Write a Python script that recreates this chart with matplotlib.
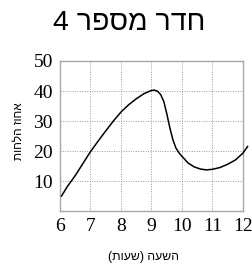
import matplotlib
matplotlib.use("Agg")
import matplotlib.pyplot as plt

# data
hours = [6.05, 6.25, 6.5, 6.75, 7.0, 7.25, 7.5, 7.75, 8.0, 8.25, 8.5, 8.75,
         9.0, 9.1, 9.2, 9.3, 9.4, 9.5, 9.6, 9.7, 9.8, 9.9, 10.0, 10.2, 10.4,
         10.6, 10.8, 11.0, 11.25, 11.5, 11.75, 12.0, 12.15]
humidity = [5.0, 8.3, 11.8, 15.8, 19.8, 23.3, 26.7, 30.0, 33.0, 35.4, 37.4, 39.1,
            40.2, 40.3, 39.9, 38.8, 36.6, 32.5, 27.8, 23.8, 21.0, 19.4, 18.2, 16.0, 14.7,
            14.0, 13.7, 13.9, 14.5, 15.6, 17.0, 19.3, 21.5]
x_ticks = [6, 7, 8, 9, 10, 11, 12]
y_ticks = [10, 20, 30, 40, 50]

# Hebrew strings in visual (left-to-right) order
title = "4 רפסמ רדח"        # חדר מספר 4
ylabel = "תוחלה זוחא"       # אחוז הלחות
xlabel = "(תועש) העשה"      # השעה (שעות)

fig = plt.figure(figsize=(2.53, 2.64), dpi=100)
ax = fig.add_axes([60 / 253, (264 - 211) / 264, (243 - 60) / 253, (211 - 61) / 264])

ax.plot(hours, humidity, color="black", linewidth=1.1, clip_on=False, zorder=3)

ax.set_xlim(6, 12)
ax.set_ylim(0, 50)
ax.set_xticks(x_ticks)
ax.set_yticks(y_ticks)
ax.set_xticklabels([str(t) for t in x_ticks], family="Liberation Serif", fontsize=14)
ax.set_yticklabels([str(t) for t in y_ticks], family="Liberation Serif", fontsize=14)
ax.tick_params(length=0)
ax.tick_params(axis="x", pad=5)
ax.tick_params(axis="y", pad=5)
ax.grid(True, color="#9a9a9a", linestyle=(0, (1, 1.5)), linewidth=0.7)
for s in ax.spines.values():
    s.set_color("#a8a8a8")
    s.set_linewidth(1.0)

fig.text(129 / 253, 1 - 23 / 264, title, family="Liberation Sans", fontsize=20.5,
         ha="center", va="center")
fig.text(19 / 253, 1 - 131.5 / 264, ylabel, family="Liberation Sans", fontsize=8.5,
         rotation=90, ha="center", va="center")
fig.text(144 / 253, 1 - 257 / 264, xlabel, family="Liberation Sans", fontsize=8.8,
         ha="center", va="center")

fig.savefig("out.png", dpi=100)
